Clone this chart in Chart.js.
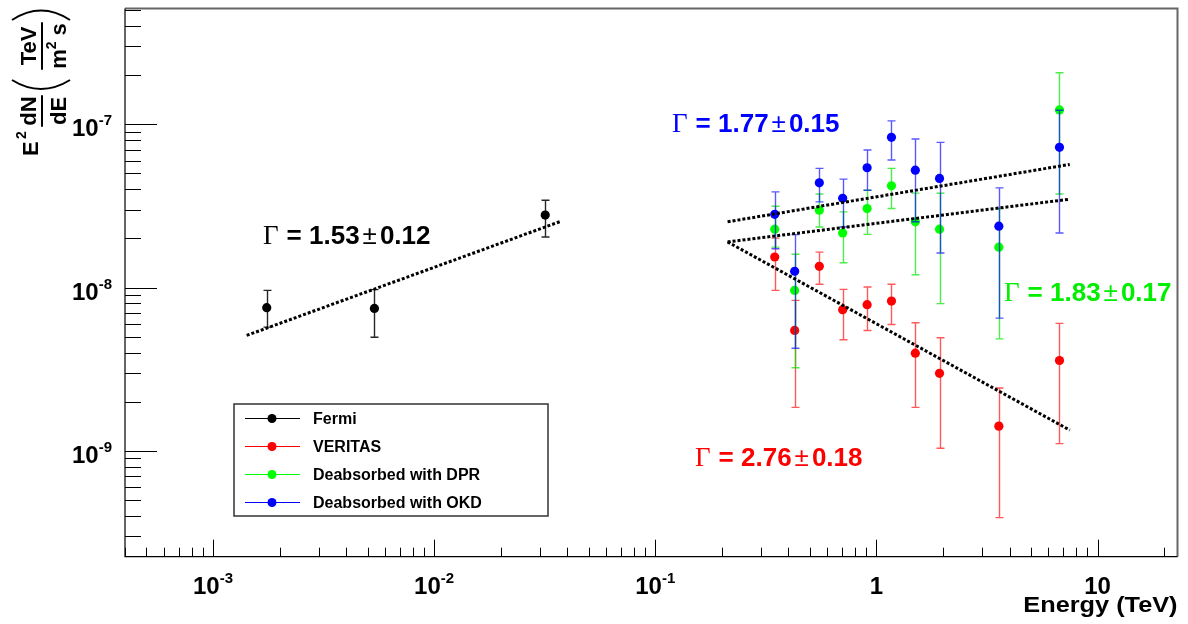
<!DOCTYPE html>
<html>
<head>
<meta charset="utf-8">
<script src="https://cdn.jsdelivr.net/npm/chart.js@4.4.1/dist/chart.umd.min.js"></script>
<style>
  html, body { margin: 0; padding: 0; background: #fff; }
  #wrap { width: 1188px; height: 624px; }
</style>
</head>
<body>
<div id="wrap"><canvas id="sed" width="1188" height="624"></canvas></div>
<script>
// ---- data (energies in TeV, E^2 dN/dE in TeV m^-2 s^-1) ----
const seriesNames = ['Fermi', 'VERITAS', 'Deabsorbed with DPR', 'Deabsorbed with OKD'];
const seriesColors = ['#000000', '#ff0000', '#00ff00', '#0000ff'];
const errColors = ['rgba(0,0,0,0.85)', 'rgba(255,0,0,0.65)', 'rgba(0,230,0,0.7)', 'rgba(0,0,255,0.65)'];

const fermiE = [1.75e-3, 5.37e-3, 0.0318];
const fermiF = [7.54e-9, 7.46e-9, 2.78e-8];
const fermiHi = [9.62e-9, 9.72e-9, 3.43e-8];
const fermiLo = [5.73e-9, 4.97e-9, 2.04e-8];

const veritasE = [0.347, 0.427, 0.552, 0.704, 0.908, 1.17, 1.50, 1.93, 3.58, 6.73];
const veritasF = [1.54e-8, 5.47e-9, 1.35e-8, 7.33e-9, 7.87e-9, 8.28e-9, 3.97e-9, 2.99e-9, 1.42e-9, 3.58e-9];
const veritasHi = [2.01e-8, 8.36e-9, 1.65e-8, 9.76e-9, 1.01e-8, 1.05e-8, 6.10e-9, 4.93e-9, 2.43e-9, 6.04e-9];
const veritasLo = [9.62e-9, 1.85e-9, 1.05e-8, 4.80e-9, 5.47e-9, 5.95e-9, 1.85e-9, 1.04e-9, 3.91e-10, 1.11e-9];

const dprF = [2.28e-8, 9.62e-9, 2.98e-8, 2.16e-8, 3.05e-8, 4.20e-8, 2.53e-8, 2.28e-8, 1.77e-8, 1.224e-7];
const dprHi = [3.15e-8, 1.60e-8, 3.74e-8, 2.91e-8, 3.95e-8, 5.37e-8, 3.79e-8, 3.78e-8, 3.05e-8, 2.07e-7];
const dprLo = [1.77e-8, 3.23e-9, 2.35e-8, 1.42e-8, 2.12e-8, 3.05e-8, 1.20e-8, 7.98e-9, 4.86e-9, 3.74e-8];

const okdF = [2.81e-8, 1.26e-8, 4.38e-8, 3.52e-8, 5.42e-8, 8.32e-8, 5.24e-8, 4.66e-8, 2.38e-8, 7.23e-8];
const okdHi = [3.86e-8, 2.11e-8, 5.37e-8, 4.62e-8, 6.96e-8, 1.05e-7, 8.12e-8, 7.75e-8, 4.08e-8, 1.22e-7];
const okdLo = [1.73e-8, 4.26e-9, 3.35e-8, 2.35e-8, 3.95e-8, 6.04e-8, 2.53e-8, 1.63e-8, 6.51e-9, 2.16e-8];

// power-law fits (end points)
const fitFermiE = [1.42e-3, 0.0375];
const fitFermiF = [5.10e-9, 2.55e-8];
const fitTevE = [0.2124, 7.49];
const fitOkdF = [2.53e-8, 5.68e-8];
const fitDprF = [1.905e-8, 3.48e-8];
const fitVeritasF = [1.905e-8, 1.343e-9];

const fitLabels = ['\u0393 = 1.53 \u00b1 0.12', '\u0393 = 1.77 \u00b1 0.15', '\u0393 = 1.83 \u00b1 0.17', '\u0393 = 2.76 \u00b1 0.18'];

// axis ticks
const xTickValues = [1e-3, 1e-2, 1e-1, 1, 10];
const xTickLabels = [['10', '-3'], ['10', '-2'], ['10', '-1'], ['1', ''], ['10', '']];
const yTickValues = [1e-9, 1e-8, 1e-7];
const yTickLabels = [['10', '-9'], ['10', '-8'], ['10', '-7']];

const SANS = '"Liberation Sans", Arial, Helvetica, sans-serif';
const SERIF = '"Liberation Serif", "Times New Roman", serif';

function pts(xs, ys) {
    return xs.map((x, i) => ({ x: x, y: ys[i] }));
}

function pointSet(idx, xs, ys, hi, lo, order) {
    return {
        label: seriesNames[idx],
        data: pts(xs, ys),
        showLine: false,
        pointRadius: 4.6,
        pointHoverRadius: 4.6,
        pointBackgroundColor: seriesColors[idx],
        pointBorderColor: seriesColors[idx],
        pointBorderWidth: 0,
        errHi: hi,
        errLo: lo,
        errColor: errColors[idx],
        order: order
    };
}

function fitSet(xs, ys) {
    return {
        label: 'fit',
        data: pts(xs, ys),
        showLine: true,
        pointRadius: 0,
        borderColor: '#000',
        borderWidth: 3,
        borderDash: [3, 2],
        fill: false,
        order: 0
    };
}

// error bars go under each marker set
const errorBars = {
    id: 'errorBars',
    beforeDatasetDraw(chart, args) {
        const ds = chart.data.datasets[args.index];
        if (!ds.errHi) return;
        const { ctx, scales: { x, y } } = chart;
        ctx.save();
        ctx.strokeStyle = ds.errColor;
        ctx.lineWidth = 1.4;
        ds.data.forEach((p, i) => {
            const px = Math.round(x.getPixelForValue(p.x)) + 0.5;
            const yHi = y.getPixelForValue(ds.errHi[i]);
            const yLo = y.getPixelForValue(ds.errLo[i]);
            ctx.beginPath();
            ctx.moveTo(px, yHi); ctx.lineTo(px, yLo);
            ctx.moveTo(px - 4, yHi); ctx.lineTo(px + 4, yHi);
            ctx.moveTo(px - 4, yLo); ctx.lineTo(px + 4, yLo);
            ctx.stroke();
        });
        ctx.restore();
    }
};

function powLabel(ctx, base, exp, x, yBase, align) {
    ctx.font = 'bold 24px ' + SANS;
    const wb = ctx.measureText(base).width;
    ctx.font = 'bold 15px ' + SANS;
    const we = exp ? ctx.measureText(exp).width : 0;
    const total = wb + we;
    let x0 = x;
    if (align === 'center') x0 = x - total / 2;
    if (align === 'right') x0 = x - total;
    ctx.textAlign = 'left';
    ctx.font = 'bold 24px ' + SANS;
    ctx.fillText(base, x0, yBase);
    if (exp) {
        ctx.font = 'bold 15px ' + SANS;
        ctx.fillText(exp, x0 + wb, yBase - 11);
    }
}

function gammaText(ctx, text, color, x, y) {
    // "Γ = 1.53 ± 0.12" -> serif gamma, bold numbers, thin plus-minus
    const parts = text.split(' ');
    ctx.fillStyle = color;
    ctx.textAlign = 'left';
    ctx.font = '27px ' + SERIF;
    ctx.fillText(parts[0], x, y);
    let cx = x + ctx.measureText(parts[0]).width + 8;
    ctx.font = 'bold 26px ' + SANS;
    const mid = parts[1] + ' ' + parts[2];
    ctx.fillText(mid, cx, y);
    cx += ctx.measureText(mid).width + 3;
    ctx.font = '26px ' + SANS;
    ctx.fillText(parts[3], cx, y);
    cx += ctx.measureText(parts[3]).width + 3;
    ctx.font = 'bold 26px ' + SANS;
    ctx.fillText(parts[4], cx, y);
}

function fraction(ctx, drawNum, drawDen, wNum, wDen, uc) {
    const w = Math.max(wNum, wDen);
    drawNum(uc - wNum / 2, 36);
    drawDen(uc - wDen / 2, 66);
    ctx.beginPath();
    ctx.moveTo(uc - w / 2 - 1, 42);
    ctx.lineTo(uc + w / 2 + 1, 42);
    ctx.stroke();
}

function yTitle(ctx) {
    ctx.save();
    ctx.translate(0, 162);
    ctx.rotate(-Math.PI / 2);
    ctx.fillStyle = '#000';
    ctx.strokeStyle = '#000';
    ctx.lineWidth = 2;
    ctx.textAlign = 'left';
    const big = 'bold 22px ' + SANS;
    const small = 'bold 14px ' + SANS;
    ctx.font = big;
    ctx.fillText('E', 6, 38);
    ctx.font = small;
    ctx.fillText('2', 23, 26);

    ctx.font = big;
    const wdN = ctx.measureText('dN').width;
    const wdE = ctx.measureText('dE').width;
    fraction(ctx,
        (u, v) => { ctx.font = big; ctx.fillText('dN', u, v); },
        (u, v) => { ctx.font = big; ctx.fillText('dE', u, v); },
        wdN, wdE, 51);

    // left parenthesis
    ctx.beginPath();
    ctx.moveTo(82, 12);
    ctx.quadraticCurveTo(64, 41, 82, 70);
    ctx.stroke();

    ctx.font = big;
    const wTeV = ctx.measureText('TeV').width;
    const wm = ctx.measureText('m').width;
    const ws = ctx.measureText(' s').width;
    ctx.font = small;
    const w2 = ctx.measureText('2').width;
    fraction(ctx,
        (u, v) => { ctx.font = big; ctx.fillText('TeV', u, v); },
        (u, v) => {
            ctx.font = big; ctx.fillText('m', u, v);
            ctx.font = small; ctx.fillText('2', u + wm, v - 10);
            ctx.font = big; ctx.fillText(' s', u + wm + w2, v);
        },
        wTeV, wm + w2 + ws, 116);

    // right parenthesis
    ctx.beginPath();
    ctx.moveTo(142, 12);
    ctx.quadraticCurveTo(161, 41, 142, 70);
    ctx.stroke();
    ctx.restore();
}

const frameAndText = {
    id: 'frameAndText',
    afterDraw(chart) {
        const { ctx, chartArea: a, scales: { x, y } } = chart;
        ctx.save();

        // frame
        ctx.strokeStyle = '#666';
        ctx.lineWidth = 2;
        ctx.beginPath();
        ctx.moveTo(a.left, a.top); ctx.lineTo(a.right, a.top); ctx.lineTo(a.right, a.bottom);
        ctx.stroke();
        ctx.strokeStyle = '#000';
        ctx.lineWidth = 1.2;
        ctx.beginPath();
        ctx.moveTo(a.left, a.top); ctx.lineTo(a.left, a.bottom); ctx.lineTo(a.right, a.bottom);
        ctx.stroke();

        // ticks (inside the frame, log decades)
        ctx.lineWidth = 1;
        ctx.beginPath();
        for (let d = -4; d <= 1; d++) {
            for (let k = 1; k <= 9; k++) {
                const v = k * Math.pow(10, d);
                if (v < x.min || v > x.max) continue;
                const px = Math.round(x.getPixelForValue(v)) + 0.5;
                const len = k === 1 ? 17 : 9;
                ctx.moveTo(px, a.bottom);
                ctx.lineTo(px, a.bottom - len);
            }
        }
        for (let d = -10; d <= -7; d++) {
            for (let k = 1; k <= 9; k++) {
                const v = k * Math.pow(10, d);
                if (v < y.min || v > y.max) continue;
                const py = Math.round(y.getPixelForValue(v)) + 0.5;
                const len = k === 1 ? 32 : 16;
                ctx.moveTo(a.left, py);
                ctx.lineTo(a.left + len, py);
            }
        }
        ctx.stroke();

        // tick labels
        ctx.fillStyle = '#000';
        xTickValues.forEach((v, i) => {
            powLabel(ctx, xTickLabels[i][0], xTickLabels[i][1], x.getPixelForValue(v), 594, 'center');
        });
        yTickValues.forEach((v, i) => {
            powLabel(ctx, yTickLabels[i][0], yTickLabels[i][1], 112, y.getPixelForValue(v) + 12, 'right');
        });

        // axis titles (x title is a little wider than the plain font)
        ctx.save();
        ctx.font = 'bold 22px ' + SANS;
        ctx.textAlign = 'right';
        ctx.translate(a.right, 612);
        ctx.scale(1.15, 1);
        ctx.fillText('Energy (TeV)', 0, 0);
        ctx.restore();
        yTitle(ctx);

        // fit annotations
        gammaText(ctx, fitLabels[0], '#000', 263, 244);
        gammaText(ctx, fitLabels[1], '#0000ff', 672, 132);
        gammaText(ctx, fitLabels[2], '#00ee00', 1004, 301);
        gammaText(ctx, fitLabels[3], '#ff0000', 695, 466);

        // legend box
        const lx = 234, ly = 404, lw = 314, lh = 112;
        ctx.fillStyle = '#fff';
        ctx.fillRect(lx, ly, lw, lh);
        ctx.strokeStyle = '#333';
        ctx.lineWidth = 1.5;
        ctx.strokeRect(lx, ly, lw, lh);
        seriesNames.forEach((name, i) => {
            const ry = ly + 14.5 + i * 28;
            ctx.strokeStyle = seriesColors[i];
            ctx.lineWidth = 1.2;
            ctx.beginPath();
            ctx.moveTo(lx + 11, ry); ctx.lineTo(lx + 66, ry);
            ctx.stroke();
            ctx.fillStyle = seriesColors[i];
            ctx.beginPath();
            ctx.arc(lx + 38, ry, 4.5, 0, Math.PI * 2);
            ctx.fill();
            ctx.fillStyle = '#000';
            ctx.font = 'bold 16px ' + SANS;
            ctx.textAlign = 'left';
            ctx.textBaseline = 'middle';
            ctx.fillText(name, lx + 79, ry + 1);
            ctx.textBaseline = 'alphabetic';
        });
        ctx.restore();
    }
};

const chart = new Chart(document.getElementById('sed').getContext('2d'), {
    type: 'scatter',
    data: {
        datasets: [
            fitSet(fitFermiE, fitFermiF),
            fitSet(fitTevE, fitOkdF),
            fitSet(fitTevE, fitDprF),
            fitSet(fitTevE, fitVeritasF),
            pointSet(3, veritasE, okdF, okdHi, okdLo, 1),
            pointSet(2, veritasE, dprF, dprHi, dprLo, 2),
            pointSet(1, veritasE, veritasF, veritasHi, veritasLo, 3),
            pointSet(0, fermiE, fermiF, fermiHi, fermiLo, 4)
        ]
    },
    options: {
        responsive: false,
        devicePixelRatio: 1,
        animation: false,
        layout: { padding: { left: 125, right: 10.5, top: 8.5, bottom: 67.3 } },
        scales: {
            x: { type: 'logarithmic', min: 4e-4, max: 23, display: false },
            y: { type: 'logarithmic', min: 2.254e-10, max: 5.115e-7, display: false }
        },
        plugins: {
            legend: { display: false },
            tooltip: { enabled: false }
        }
    },
    plugins: [errorBars, frameAndText]
});
</script>
</body>
</html>
